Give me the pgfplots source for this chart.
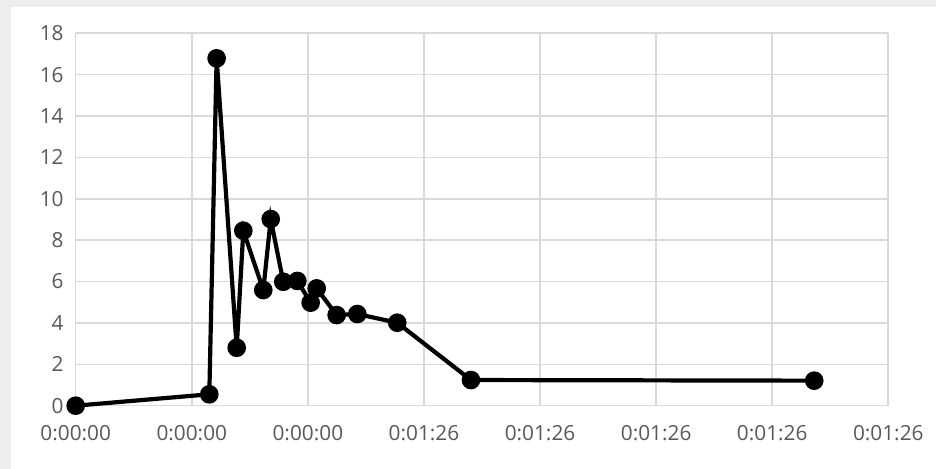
\documentclass[border=0pt]{standalone}
\usepackage{pgfplots}
\pgfplotsset{compat=1.18}
\usepackage{fontspec}
\setmainfont{Open Sans}
\definecolor{bggrey}{HTML}{EDEDF0}
\definecolor{txtgrey}{HTML}{595959}
\definecolor{gridgrey}{HTML}{D9D9D9}
\begin{document}
\begin{tikzpicture}[x=1pt,y=1pt]
\useasboundingbox (0,0) rectangle (468,234.5);
\fill[bggrey] (0,0) rectangle (468,234.5);
\fill[white] (5.5,0) rectangle (468,231);
\begin{axis}[
  at={(37.85pt,31.65pt)}, anchor=south west,
  scale only axis, width=406.3pt, height=186.2pt,
  xmin=0, xmax=7, ymin=0, ymax=18,
  xtick={0,1,2,3,4,5,6,7},
  xticklabels={0:00:00,0:00:00,0:00:00,0:01:26,0:01:26,0:01:26,0:01:26,0:01:26},
  ytick={0,2,...,18},
  grid=major,
  major grid style={gridgrey, line width=0.8pt},
  axis line style={draw=none},
  tick style={draw=none},
  ticklabel style={font=\fontsize{10.4}{12}\selectfont, text=txtgrey},
  /pgf/number format/assume math mode=true,
  xticklabel style={yshift=-6.5pt},
  yticklabel style={xshift=-2.5pt},
  clip=false,
]
\addplot[black, line width=2.1pt, mark=*, mark size=3.6pt, mark options={fill=black}] coordinates {
(0,0)
(1.151,0.55)
(1.214,16.79)
(1.387,2.80)
(1.444,8.46)
(1.616,5.59)
(1.680,9.02)
(1.788,5.99)
(1.909,6.03)
(2.024,4.98)
(2.076,5.67)
(2.248,4.38)
(2.426,4.43)
(2.770,4.01)
(3.405,1.24)
(6.362,1.21)
};
\end{axis}
\end{tikzpicture}
\end{document}
